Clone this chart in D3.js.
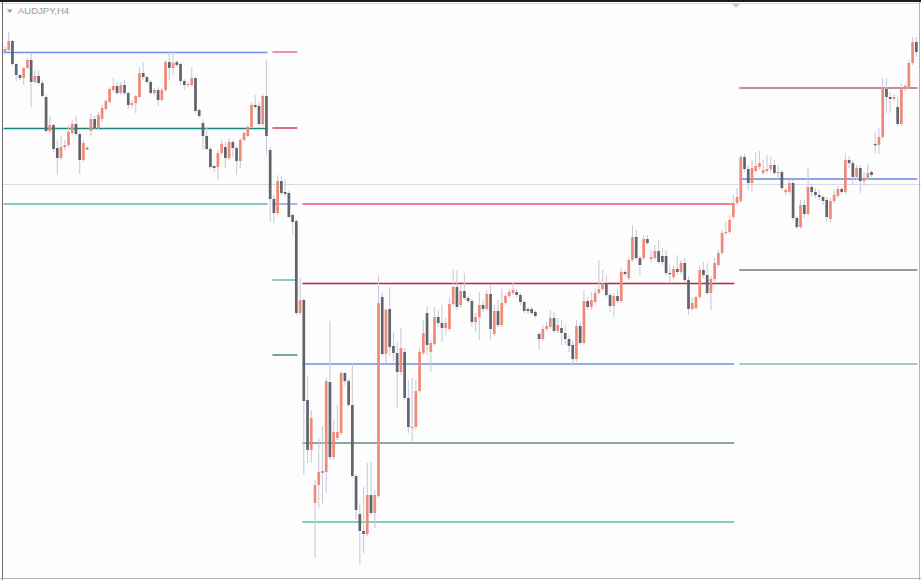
<!DOCTYPE html>
<html><head><meta charset="utf-8">
<script src="https://cdn.jsdelivr.net/npm/d3@7"></script>
<style>html,body{margin:0;padding:0;background:#fff;overflow:hidden}svg{display:block}</style>
</head><body>
<svg id="chart" width="921" height="580"></svg>
<script>
// AUDJPY H4 candles (prices)
const open=[79.48,79.50,79.59,79.36,79.25,79.22,79.32,79.40,79.18,79.24,79.17,79.03,78.69,78.75,78.52,78.42,78.53,78.55,78.67,78.76,78.66,78.40,78.52,78.69,78.81,78.72,78.81,78.91,78.98,79.10,79.14,79.07,79.15,79.07,78.95,78.97,79.03,79.27,79.23,79.18,79.07,79.10,79.00,79.10,79.38,79.32,79.38,79.36,79.19,79.15,79.15,79.22,78.90,78.77,78.64,78.51,78.34,78.33,78.47,78.53,78.42,78.58,78.52,78.39,78.60,78.64,78.73,78.95,78.94,78.76,79.04,78.50,78.01,77.87,78.19,78.08,78.07,77.85,77.79,76.87,77.00,76.00,75.50,74.97,75.15,75.27,75.28,76.18,75.43,75.62,75.67,76.27,76.19,75.95,75.24,74.86,74.69,74.66,75.05,74.87,75.04,77.03,76.46,76.91,76.54,76.47,76.28,76.48,76.02,75.72,75.73,76.09,76.47,76.87,76.48,76.56,76.83,76.77,76.72,76.71,76.96,77.13,76.95,77.09,77.02,76.99,76.78,76.83,76.95,76.91,77.06,76.66,76.89,76.75,76.97,77.04,77.07,77.08,77.05,76.98,76.91,76.91,76.88,76.66,76.61,76.71,76.73,76.82,76.69,76.72,76.67,76.61,76.55,76.41,76.74,76.57,76.99,76.93,76.98,77.07,77.11,77.17,77.05,76.94,77.04,76.99,77.28,77.22,77.40,77.63,77.42,77.42,77.61,77.41,77.42,77.49,77.44,77.44,77.27,77.23,77.31,77.28,77.37,77.20,76.91,76.92,77.03,77.30,77.25,77.07,77.21,77.35,77.47,77.67,77.68,77.83,77.97,77.99,78.43,78.31,78.17,78.29,78.33,78.27,78.29,78.31,78.35,78.27,78.28,78.08,78.08,78.17,77.82,77.73,77.95,77.86,78.13,78.08,78.05,78.03,78.00,77.81,77.99,78.04,78.11,78.08,78.40,78.37,78.23,78.32,78.19,78.22,78.28,78.56,78.55,78.63,79.11,79.03,79.01,78.93,78.76,79.11,79.13,79.37,79.58];
const high=[79.54,79.68,79.60,79.37,79.26,79.33,79.42,79.47,79.30,79.30,79.20,79.05,78.84,78.76,78.60,78.64,78.60,78.75,78.80,78.84,78.68,78.60,78.54,78.87,78.84,78.88,78.95,79.01,79.13,79.22,79.18,79.18,79.20,79.08,79.00,79.05,79.33,79.38,79.25,79.20,79.12,79.13,79.12,79.40,79.49,79.49,79.40,79.37,79.21,79.18,79.33,79.23,78.92,78.81,78.73,78.53,78.35,78.50,78.60,78.58,78.62,78.60,78.54,78.62,78.69,78.75,78.98,79.05,78.98,79.06,79.40,78.53,78.05,78.25,78.24,78.21,78.09,77.87,77.81,77.22,77.02,76.24,75.90,75.20,75.62,75.74,76.22,76.79,75.80,75.95,76.29,76.28,76.21,76.37,75.26,74.97,75.13,75.37,75.38,75.10,77.25,77.08,76.92,77.13,76.68,76.58,76.72,76.52,76.20,76.22,76.20,76.52,76.80,76.94,76.60,76.93,76.90,76.95,76.82,77.03,77.30,77.30,77.15,77.27,77.04,77.01,76.87,77.08,77.00,77.10,77.15,76.95,77.00,77.11,77.07,77.11,77.17,77.11,77.07,77.00,76.93,76.93,76.90,76.68,76.75,76.78,76.90,76.88,76.82,76.80,76.75,76.65,76.60,76.80,76.78,77.10,77.03,77.08,77.12,77.40,77.30,77.25,77.07,77.07,77.10,77.32,77.30,77.43,77.75,77.70,77.45,77.65,77.65,77.50,77.55,77.60,77.52,77.50,77.35,77.35,77.45,77.40,77.42,77.24,77.02,77.05,77.35,77.38,77.37,77.24,77.42,77.50,77.70,77.78,77.85,78.05,78.12,78.45,78.46,78.35,78.40,78.48,78.49,78.40,78.45,78.43,78.40,78.35,78.30,78.12,78.20,78.20,77.84,78.00,78.00,78.33,78.16,78.12,78.10,78.05,78.03,78.02,78.10,78.14,78.13,78.47,78.44,78.40,78.35,78.35,78.28,78.36,78.30,78.68,78.72,79.22,79.22,79.08,79.06,79.03,79.17,79.16,79.40,79.63,79.63];
const low=[79.45,79.48,79.34,79.19,79.20,79.15,79.31,78.93,79.16,79.15,79.02,78.67,78.67,78.48,78.25,78.40,78.50,78.53,78.65,78.64,78.26,78.38,78.50,78.63,78.70,78.70,78.78,78.90,78.97,79.08,79.05,79.05,79.05,78.91,78.92,78.87,79.02,79.20,79.16,79.05,79.05,78.94,78.98,79.08,79.20,79.25,79.33,79.15,79.10,79.13,79.14,78.87,78.82,78.50,78.50,78.31,78.28,78.20,78.45,78.32,78.40,78.43,78.25,78.32,78.59,78.63,78.72,78.91,78.74,78.74,78.45,77.78,77.77,77.85,78.05,78.03,77.82,77.65,76.85,76.85,75.25,75.37,75.37,74.42,74.92,74.97,75.07,75.40,75.40,75.60,75.65,76.15,75.93,75.22,74.80,74.35,74.47,74.64,74.85,74.72,75.02,76.44,76.37,76.44,76.38,75.92,76.25,76.00,75.67,75.59,75.70,76.07,76.45,76.45,76.28,76.54,76.73,76.58,76.65,76.69,76.94,76.90,76.92,77.00,76.97,76.73,76.68,76.60,76.88,76.89,76.60,76.64,76.73,76.73,76.95,77.02,77.05,77.03,76.95,76.87,76.86,76.85,76.82,76.50,76.59,76.69,76.71,76.67,76.67,76.55,76.55,76.48,76.34,76.38,76.55,76.55,76.90,76.90,76.95,77.05,77.09,77.03,76.88,76.83,76.97,76.97,77.24,77.20,77.38,77.40,77.25,77.40,77.55,77.38,77.40,77.36,77.35,77.25,77.18,77.21,77.25,77.26,77.18,76.85,76.89,76.90,77.01,77.22,77.05,76.90,77.19,77.33,77.45,77.65,77.66,77.81,77.95,77.97,78.28,78.10,78.08,78.28,78.30,78.25,78.27,78.28,78.25,78.22,78.10,78.05,78.06,77.80,77.71,77.71,77.82,77.84,78.04,78.02,78.00,77.95,77.78,77.77,77.97,78.02,78.06,78.06,78.32,78.15,78.20,78.07,78.14,78.20,78.23,78.47,78.46,78.61,78.87,78.87,78.99,78.74,78.74,79.09,79.11,79.35,79.43];
const close=[79.51,79.59,79.36,79.25,79.22,79.32,79.40,79.18,79.24,79.17,79.04,78.69,78.75,78.51,78.42,78.53,78.55,78.68,78.76,78.66,78.40,78.57,78.51,78.81,78.72,78.85,78.92,78.99,79.11,79.14,79.07,79.15,79.07,78.95,78.97,79.04,79.27,79.23,79.18,79.07,79.10,79.00,79.10,79.38,79.32,79.37,79.35,79.19,79.15,79.16,79.22,78.89,78.84,78.64,78.51,78.33,78.32,78.47,78.56,78.42,78.58,78.52,78.39,78.60,78.67,78.73,78.95,78.93,78.76,79.04,78.64,78.01,77.87,78.19,78.07,78.06,77.83,77.78,76.87,77.00,75.99,75.50,75.82,75.15,75.28,75.29,76.19,75.43,75.68,75.68,76.27,76.19,75.95,75.24,74.90,74.69,74.66,75.05,74.87,75.05,76.97,76.46,76.90,76.53,76.47,76.28,76.52,76.02,75.73,75.73,76.09,76.48,76.67,76.55,76.57,76.83,76.77,76.72,76.77,76.96,77.13,76.93,77.09,77.02,76.99,76.78,76.83,76.95,76.91,77.06,76.71,76.89,76.75,76.97,77.04,77.08,77.10,77.05,76.98,76.89,76.89,76.87,76.84,76.61,76.71,76.74,76.82,76.69,76.75,76.67,76.61,76.54,76.41,76.74,76.57,76.99,76.93,77.00,77.07,77.11,77.17,77.05,76.94,77.04,76.99,77.28,77.26,77.40,77.63,77.42,77.35,77.61,77.57,77.43,77.49,77.38,77.38,77.27,77.26,77.31,77.28,77.37,77.20,76.91,76.97,77.03,77.30,77.25,77.07,77.21,77.37,77.47,77.67,77.68,77.80,77.97,78.03,78.43,78.31,78.17,78.32,78.34,78.37,78.30,78.31,78.35,78.27,78.28,78.12,78.10,78.17,77.82,77.73,77.95,77.86,78.13,78.08,78.05,78.03,77.99,77.83,77.99,78.05,78.11,78.08,78.40,78.37,78.23,78.32,78.19,78.22,78.27,78.25,78.55,78.63,79.12,79.03,79.01,79.03,78.76,79.11,79.14,79.37,79.58,79.48];

// Pivot level segments: [startIndex, endIndex] and their levels
const segRanges=[[0,70],[72,78],[80,195],[197,244]];
const segLevels=[
  [79.475,78.715,77.96],
  [79.48,78.72,77.96,77.20,76.45],
  [77.96,77.165,76.36,75.57,74.78],
  [79.12,78.21,77.30,76.36]
];
const priceLine=78.16;
const title="AUDJPY,H4";

// styles
const segColors=[
  ["#6f92f0","#16877c","#56b8a8"],
  ["#ee5470","#d9203f","#6f8ff0","#62bdae","#1e7d70"],
  ["#ee5470","#c8203e","#93aaf2","#1f4f48","#5dbaa9"],
  ["#8e1a2e","#8ba4f2","#22403b","#3a9e8e"]
];
const segWidth=[[1.6,1.3,1.3],[1.3,1.3,1.3,1.5,1.3],[1.3,1.3,2,1.2,1.5],[1.2,1.8,1.2,1.2]];

const W=921,H=580,N=open.length;
const svg=d3.select("#chart");
svg.append("rect").attr("width",W).attr("height",H).attr("fill","#fdfdfe");

const x=d3.scaleBand().domain(d3.range(N)).range([3.13,3.13+N*3.735]).padding(0);
const cx=i=>x(i)+x.bandwidth()/2;
const y=d3.scaleLinear().domain([80,74.2]).range([0,580]);

// price line
svg.append("line").attr("x1",3).attr("x2",W).attr("y1",Math.round(y(priceLine))+0.5).attr("y2",Math.round(y(priceLine))+0.5)
  .attr("stroke","#dadae2").attr("stroke-width",1);

// level segments
segRanges.forEach((r,s)=>{
  segLevels[s].forEach((v,k)=>{
    svg.append("line").attr("x1",cx(r[0])-1.5).attr("x2",cx(r[1])+1)
      .attr("y1",y(v)).attr("y2",y(v))
      .attr("stroke",segColors[s][k]).attr("stroke-width",segWidth[s][k]);
  });
});

const idx=d3.range(N);
// wicks
svg.append("g").selectAll("line").data(idx).join("line")
  .attr("x1",i=>cx(i)).attr("x2",i=>cx(i))
  .attr("y1",i=>y(high[i])).attr("y2",i=>y(low[i]))
  .attr("stroke","#c9ccda").attr("stroke-width",1.1);
// bodies
svg.append("g").selectAll("rect").data(idx).join("rect")
  .attr("x",i=>cx(i)-1.35).attr("width",2.7)
  .attr("y",i=>y(Math.max(open[i],close[i])))
  .attr("height",i=>Math.max(1.2,Math.abs(y(open[i])-y(close[i]))))
  .attr("fill",i=>close[i]>=open[i]?"#ef8a79":"#60646c");

// frame
svg.append("rect").attr("x",0).attr("y",0).attr("width",W).attr("height",2).attr("fill","#1e1e1e");
svg.append("line").attr("x1",0).attr("x2",W).attr("y1",3.5).attr("y2",3.5).attr("stroke","#d8d8de").attr("stroke-width",1);
svg.append("line").attr("x1",2.5).attr("x2",2.5).attr("y1",2).attr("y2",H).attr("stroke","#6a6a6a").attr("stroke-width",1);
svg.append("line").attr("x1",919.5).attr("x2",919.5).attr("y1",2).attr("y2",H).attr("stroke","#b4b4b8").attr("stroke-width",1);
svg.append("line").attr("x1",0).attr("x2",W).attr("y1",578.5).attr("y2",578.5).attr("stroke","#b4b4b8").attr("stroke-width",1);

// shift marker
svg.append("path").attr("d","M732,4 L740,4 L736,8 Z").attr("fill","#c9ccd6");

// title
svg.append("path").attr("d","M7,9.5 L12.5,9.5 L9.75,13 Z").attr("fill","#9a9a9a");
svg.append("text").attr("x",18).attr("y",14).text(title)
  .attr("font-family","Liberation Sans, Arial, sans-serif").attr("font-size",9.5)
  .attr("fill","#9a9a9a");
</script>
</body></html>
